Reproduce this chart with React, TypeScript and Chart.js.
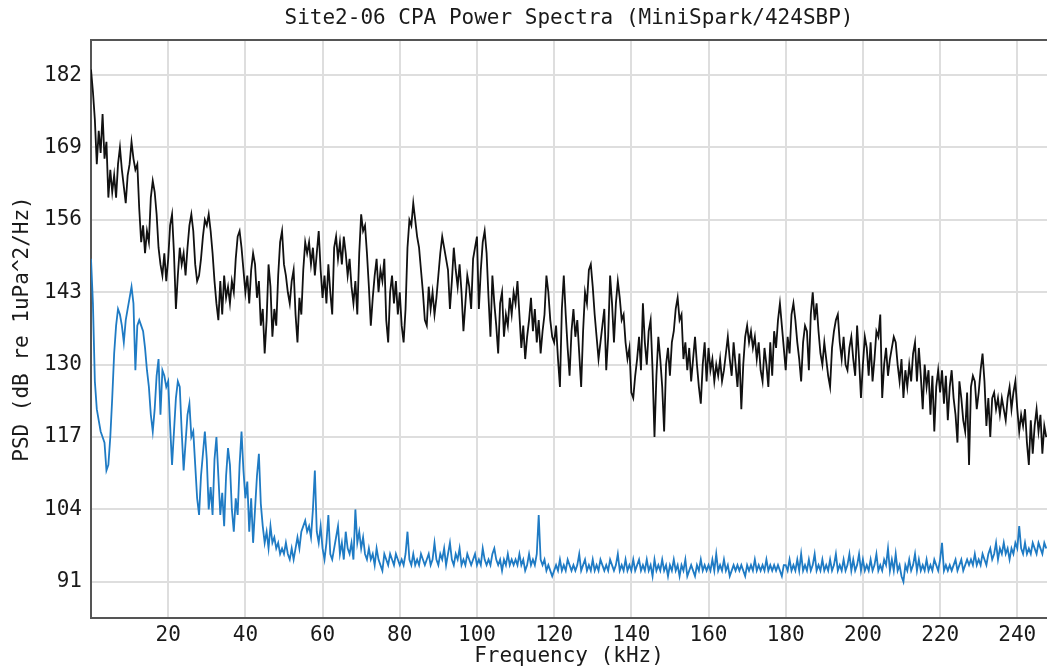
import React, { useEffect, useRef } from 'react';
import { Chart, registerables } from 'chart.js';

Chart.register(...registerables);

const TITLE = 'Site2-06 CPA Power Spectra (MiniSpark/424SBP)';
const X_LABEL = 'Frequency (kHz)';
const Y_LABEL = 'PSD (dB re 1uPa^2/Hz)';

const FREQ_START_KHZ = 0;
const FREQ_STEP_KHZ = 0.5;

const X_TICKS = [20, 40, 60, 80, 100, 120, 140, 160, 180, 200, 220, 240];
const Y_TICKS = [91, 104, 117, 130, 143, 156, 169, 182];

// Black spectrum (dB), one value per 0.5 kHz starting at 0 kHz
const BLACK_PSD = [
  183, 179, 174, 166, 172, 168, 175, 167, 170, 160, 165, 161, 164, 160, 166, 169, 165, 162, 159, 164,
  166, 170, 167, 165, 166, 158, 152, 155, 150, 154, 152, 160, 163, 161, 157, 151, 148, 146, 150, 145,
  149, 155, 157, 150, 140, 146, 151, 148, 150, 146, 151, 155, 157, 154, 148, 145, 146, 149, 153, 156,
  155, 157, 154, 150, 145, 141, 138, 145, 139, 146, 142, 144, 141, 145, 143, 149, 153, 154, 151, 147,
  143, 146, 141, 147, 150, 148, 142, 145, 137, 140, 132, 138, 148, 144, 135, 140, 137, 146, 152, 154,
  148, 146, 143, 141, 145, 147, 139, 134, 142, 139, 147, 152, 150, 152, 148, 151, 146, 150, 154, 147,
  142, 146, 141, 148, 143, 139, 151, 153, 149, 152, 148, 153, 150, 146, 149, 144, 141, 145, 139, 150,
  157, 154, 155, 150, 144, 137, 142, 146, 149, 143, 147, 145, 149, 138, 134, 143, 146, 141, 145, 139,
  143, 137, 134, 140, 151, 156, 155, 159, 156, 153, 151, 147, 143, 138, 137, 144, 140, 143, 139, 142,
  146, 150, 153, 151, 149, 147, 140, 145, 151, 147, 144, 148, 143, 136, 141, 146, 144, 140, 149, 151,
  153, 140, 147, 152, 154, 150, 142, 135, 146, 141, 137, 132, 141, 143, 135, 139, 137, 142, 139, 143,
  141, 145, 139, 133, 137, 131, 135, 138, 142, 136, 140, 134, 138, 132, 136, 139, 146, 143, 138, 135,
  134, 137, 131, 126, 140, 146, 139, 133, 128, 136, 140, 135, 138, 132, 126, 136, 143, 141, 147, 148,
  144, 139, 135, 131, 134, 137, 140, 129, 135, 146, 141, 134, 141, 145, 142, 138, 139, 134, 131, 133,
  125, 124, 128, 131, 135, 129, 141, 134, 130, 136, 138, 129, 117, 128, 135, 131, 126, 118, 130, 133,
  128, 134, 136, 140, 142, 138, 139, 131, 134, 129, 133, 127, 131, 135, 130, 126, 123, 130, 134, 127,
  133, 129, 131, 127, 130, 128, 131, 127, 129, 132, 135, 131, 128, 134, 130, 126, 132, 122, 130, 135,
  137, 134, 136, 133, 135, 131, 134, 129, 127, 133, 130, 126, 134, 128, 136, 133, 138, 141, 137, 133,
  129, 135, 132, 139, 141, 138, 134, 131, 127, 134, 137, 136, 129, 139, 143, 138, 141, 136, 132, 130,
  134, 131, 128, 126, 133, 136, 138, 139, 134, 131, 135, 130, 129, 133, 135, 131, 128, 137, 131, 124,
  130, 135, 133, 128, 134, 127, 131, 136, 135, 139, 124, 130, 133, 128, 131, 133, 135, 134, 130, 127,
  131, 124, 129, 126, 130, 127, 132, 134, 127, 133, 128, 122, 130, 126, 129, 121, 128, 118, 126, 129,
  125, 129, 123, 128, 120, 126, 129, 124, 121, 116, 127, 124, 120, 118, 125, 112, 126, 128, 127, 122,
  125, 129, 132, 127, 119, 124, 117, 124, 125, 122, 124, 121, 124, 122, 120, 124, 126, 122, 125, 127,
  122, 118, 121, 119, 122, 116, 112, 120, 114, 119, 122, 118, 121, 114, 119, 117,
];

// Blue spectrum (dB), one value per 0.5 kHz starting at 0 kHz
const BLUE_PSD = [
  149, 141, 127, 122, 120, 118, 117, 116, 111, 112, 117, 124, 132, 137, 140, 139, 137, 134, 138, 140,
  142, 144, 141, 129, 137, 138, 137, 136, 133, 129, 126, 121, 118, 122, 128, 131, 121, 129, 128, 126,
  127, 119, 112, 118, 124, 127, 126, 118, 111, 116, 121, 123, 117, 118, 112, 106, 103, 110, 114, 118,
  113, 104, 108, 103, 113, 117, 110, 103, 107, 101, 110, 115, 112, 104, 100, 106, 103, 112, 118, 111,
  106, 109, 100, 106, 98, 104, 110, 114, 105, 101, 98, 100, 97, 101, 98, 99, 97, 98, 96, 97,
  96, 98, 96, 95, 97, 95, 97, 99, 97, 100, 101, 102, 100, 101, 99, 104, 111, 100, 98, 101,
  97, 95, 98, 103, 96, 95, 97, 99, 101, 96, 98, 95, 100, 97, 96, 98, 95, 104, 98, 100,
  97, 99, 96, 95, 97, 95, 96, 94, 97, 95, 94, 93, 96, 95, 94, 96, 95, 94, 96, 95,
  94, 95, 94, 96, 100, 95, 94, 96, 94, 95, 94, 96, 95, 94, 95, 96, 94, 95, 98, 95,
  94, 96, 95, 97, 94, 96, 98, 95, 94, 96, 95, 97, 94, 95, 94, 96, 95, 94, 95, 96,
  94, 95, 94, 97, 95, 94, 95, 94, 96, 97, 95, 94, 95, 93, 95, 94, 96, 94, 95, 94,
  95, 94, 96, 94, 95, 93, 94, 96, 94, 95, 94, 96, 103, 95, 94, 95, 93, 94, 93, 92,
  93, 94, 93, 95, 93, 94, 93, 95, 94, 93, 94, 93, 94, 96, 93, 94, 95, 93, 94, 93,
  95, 93, 94, 93, 95, 94, 93, 94, 93, 95, 94, 93, 94, 96, 93, 94, 93, 95, 93, 94,
  93, 95, 93, 94, 95, 93, 94, 93, 95, 93, 94, 92, 95, 93, 94, 93, 95, 93, 94, 92,
  94, 93, 95, 93, 94, 92, 94, 93, 95, 92, 93, 94, 93, 92, 94, 93, 95, 93, 94, 93,
  94, 93, 95, 93, 96, 93, 94, 93, 95, 93, 94, 92, 93, 94, 93, 94, 93, 94, 93, 92,
  94, 93, 94, 93, 95, 93, 94, 93, 94, 93, 95, 93, 94, 93, 94, 93, 94, 93, 92, 94,
  94, 93, 95, 93, 94, 93, 95, 93, 96, 93, 94, 93, 95, 93, 94, 96, 93, 94, 93, 95,
  93, 94, 93, 95, 93, 94, 96, 93, 94, 93, 95, 93, 94, 96, 93, 95, 93, 94, 96, 93,
  95, 93, 94, 93, 95, 93, 94, 96, 93, 94, 93, 95, 94, 97, 93, 95, 93, 96, 93, 94,
  92, 91, 94, 93, 95, 93, 94, 96, 93, 95, 93, 94, 93, 95, 93, 94, 93, 95, 94, 93,
  95, 98, 93, 94, 93, 94, 93, 94, 95, 93, 94, 95, 93, 94, 95, 94, 95, 94, 96, 94,
  95, 94, 96, 95, 94, 96, 97, 95, 96, 98, 95, 97, 96, 98, 96, 97, 95, 97, 96, 98,
  97, 101, 97, 96, 98, 96, 97, 96, 98, 97, 96, 98, 97, 96, 98, 97,
];

const FREQ_KHZ = BLACK_PSD.map((_, i) => FREQ_START_KHZ + i * FREQ_STEP_KHZ);

const FONT_FAMILY = "'DejaVu Sans Mono', 'Liberation Mono', monospace";
const TEXT_COLOR = '#1a1a1a';

const topFramePlugin = {
  id: 'topFrame',
  afterDraw(chart: any) {
    const { ctx, chartArea } = chart;
    ctx.save();
    ctx.strokeStyle = '#555555';
    ctx.lineWidth = 2;
    ctx.beginPath();
    ctx.moveTo(chartArea.left - 1, chartArea.top);
    ctx.lineTo(chartArea.right, chartArea.top);
    ctx.stroke();
    ctx.restore();
  },
};

export default function App() {
  const canvasRef = useRef<HTMLCanvasElement | null>(null);

  useEffect(() => {
    const canvas = canvasRef.current;
    if (!canvas) return;
    const chart = new Chart(canvas, {
      type: 'line',
      data: {
        datasets: [
          {
            label: 'Black',
            data: BLACK_PSD.map((v, i) => ({ x: FREQ_KHZ[i], y: v })),
            borderColor: '#111111',
            borderWidth: 1.8,
            pointRadius: 0,
            tension: 0,
            fill: false,
          },
          {
            label: 'Blue',
            data: BLUE_PSD.map((v, i) => ({ x: FREQ_KHZ[i], y: v })),
            borderColor: '#1f7bc4',
            borderWidth: 1.8,
            pointRadius: 0,
            tension: 0,
            fill: false,
          },
        ],
      },
      options: {
        animation: false,
        responsive: false,
        devicePixelRatio: 1,
        layout: { padding: 0 },
        plugins: {
          legend: { display: false },
          tooltip: { enabled: false },
          title: {
            display: true,
            text: TITLE,
            fullSize: false,
            color: TEXT_COLOR,
            font: { family: FONT_FAMILY, size: 21, weight: 'normal', lineHeight: 1.2 },
            padding: { top: 6, bottom: 8.8 },
          },
        },
        scales: {
          x: {
            type: 'linear',
            min: 0,
            max: 247.7,
            afterBuildTicks: (scale: any) => {
              scale.ticks = X_TICKS.map((v) => ({ value: v }));
            },
            afterFit: (scale: any) => {
              scale.height = 49;
            },
            ticks: {
              color: TEXT_COLOR,
              font: { family: FONT_FAMILY, size: 21 },
              padding: 5,
              maxRotation: 0,
              autoSkip: false,
              callback: (v: any) => String(v),
            },
            grid: { color: '#dedede', lineWidth: 2, drawTicks: false },
            border: { display: true, color: '#555555', width: 2 },
            title: {
              display: true,
              text: X_LABEL,
              color: TEXT_COLOR,
              font: { family: FONT_FAMILY, size: 21, lineHeight: 1 },
              padding: { top: 0, bottom: 0 },
            },
          },
          y: {
            type: 'linear',
            min: 84.5,
            max: 188.3,
            afterBuildTicks: (scale: any) => {
              scale.ticks = Y_TICKS.map((v) => ({ value: v }));
            },
            afterFit: (scale: any) => {
              scale.width = 91;
            },
            ticks: {
              color: TEXT_COLOR,
              font: { family: FONT_FAMILY, size: 21 },
              padding: 9,
              autoSkip: false,
              callback: (v: any) => String(v),
            },
            grid: { color: '#dedede', lineWidth: 2, drawTicks: false },
            border: { display: true, color: '#555555', width: 2 },
            title: {
              display: true,
              text: Y_LABEL,
              color: TEXT_COLOR,
              font: { family: FONT_FAMILY, size: 21, lineHeight: 1 },
              padding: { top: 12, bottom: 0 },
            },
          },
        },
      },
      plugins: [topFramePlugin],
    });
    return () => chart.destroy();
  }, []);

  return (
    <div style={{ position: 'fixed', left: 0, top: 0, width: 1047, height: 667, background: '#ffffff', overflow: 'hidden' }}>
      <canvas ref={canvasRef} width={1047} height={667} style={{ display: 'block' }} />
    </div>
  );
}
